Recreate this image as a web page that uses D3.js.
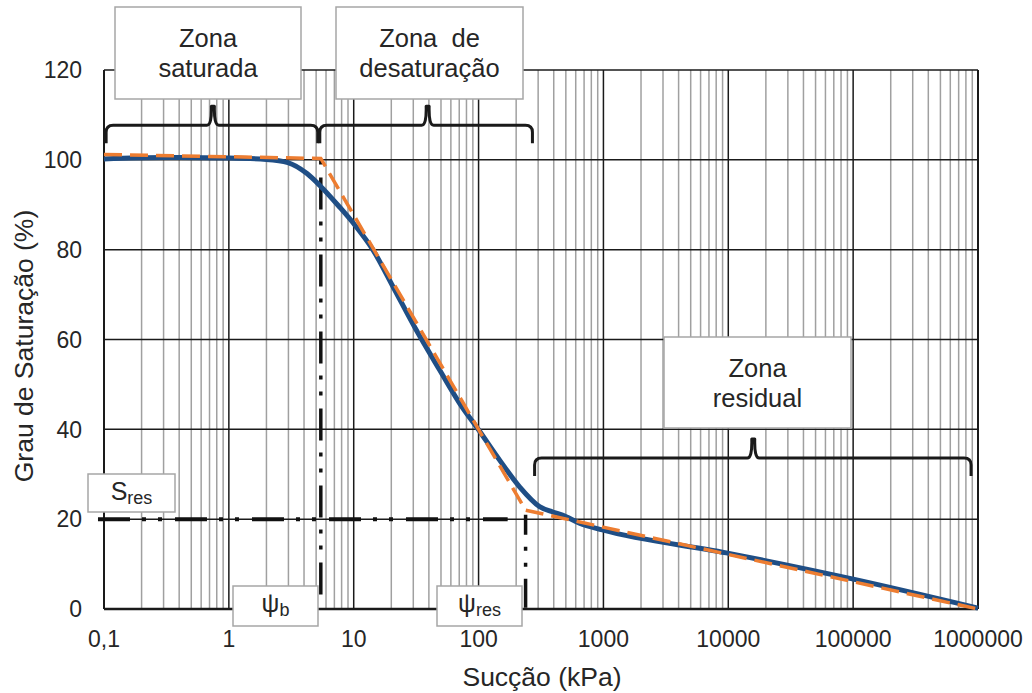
<!DOCTYPE html>
<html>
<head>
<meta charset="utf-8">
<script src="https://cdn.jsdelivr.net/npm/d3@7"></script>
<style>
  body { margin: 0; background: #fff; }
  svg text { font-family: "Liberation Sans", Arial, sans-serif; fill: #262626; }
</style>
</head>
<body>
<svg id="chart" width="1032" height="693"></svg>
<script>
// curva medida (azul)
const suctionMeasured = [0.1, 0.3, 1, 2, 2.97, 4.2, 5.35, 7.7, 10.2, 14.3, 20.6, 31.7, 48.8, 70.5, 100, 147, 213, 308, 392, 470, 643, 982, 9640, 98200, 1000000];
const saturationMeasured = [100.2, 100.5, 100.4, 100.1, 99.4, 97, 94.3, 89.5, 85.5, 79.9, 71.8, 62.1, 53.2, 45.8, 39.9, 33.2, 27.2, 22.8, 21.6, 20.9, 19.1, 17.6, 12.5, 6.7, 0.2];

// curva idealizada (laranja)
const suctionModel = [0.1, 5.45, 238, 1000000];
const saturationModel = [101.2, 100.3, 22, 0];

// pontos característicos
const psiB = 5.45;
const psiRes = 238;
const sRes = 20;

// eixos
const xTicks = [0.1, 1, 10, 100, 1000, 10000, 100000, 1000000];
const xTickLabels = ["0,1", "1", "10", "100", "1000", "10000", "100000", "1000000"];
const yTicks = [0, 20, 40, 60, 80, 100, 120];

// chaves das zonas [início, fim, pico, nível]
const braceSaturada = [0.104, 5.15, 0.745, 107.7];
const braceDesat = [5.35, 270, 39.1, 107.7];
const braceResidual = [281, 880000, 15850, 33.6];

const svg = d3.select("#chart");

const x = d3.scaleLog().domain([0.1, 1000000]).range([104, 978]);
const y = d3.scaleLinear().domain([0, 120]).range([609, 70]);

// linhas de grade secundárias
const minor = [];
for (let e = -1; e < 6; e++) {
   for (let m = 2; m <= 9; m++) minor.push(m * Math.pow(10, e));
}
svg.append("g")
   .selectAll("line")
   .data(minor)
   .enter()
   .append("line")
   .attr("x1", d => x(d)).attr("x2", d => x(d))
   .attr("y1", y(0)).attr("y2", y(120))
   .attr("stroke", "#a0a0a0")
   .attr("stroke-width", 1.5);

// linhas de grade principais
svg.append("g")
   .selectAll("line")
   .data(xTicks)
   .enter()
   .append("line")
   .attr("x1", d => x(d)).attr("x2", d => x(d))
   .attr("y1", y(0)).attr("y2", y(120))
   .attr("stroke", "#1a1a1a")
   .attr("stroke-width", d => (d === 0.1 || d === 1000000) ? 2 : 1.5);

svg.append("g")
   .selectAll("line")
   .data(yTicks)
   .enter()
   .append("line")
   .attr("x1", x(0.1)).attr("x2", x(1000000))
   .attr("y1", d => y(d)).attr("y2", d => y(d))
   .attr("stroke", "#1a1a1a")
   .attr("stroke-width", d => d === 0 ? 2.5 : 1.5);

// rótulos dos eixos
svg.append("g")
   .selectAll("text")
   .data(xTicks)
   .enter()
   .append("text")
   .attr("x", d => x(d))
   .attr("y", 647)
   .attr("text-anchor", "middle")
   .attr("font-size", 23)
   .text((d, i) => xTickLabels[i]);

svg.append("g")
   .selectAll("text")
   .data(yTicks)
   .enter()
   .append("text")
   .attr("x", 82)
   .attr("y", d => y(d))
   .attr("dy", "0.36em")
   .attr("text-anchor", "end")
   .attr("font-size", 23)
   .text(d => d);

svg.append("text")
   .attr("x", 542)
   .attr("y", 686)
   .attr("text-anchor", "middle")
   .attr("font-size", 26.5)
   .text("Sucção (kPa)");

svg.append("text")
   .attr("transform", "translate(33,346) rotate(-90)")
   .attr("text-anchor", "middle")
   .attr("font-size", 26.5)
   .text("Grau de Saturação (%)");

// linhas traço-ponto de referência
const dashDot = "32,12,4,12,4,13";
svg.append("line")
   .attr("x1", x(0.0895)).attr("x2", x(171))
   .attr("y1", y(sRes)).attr("y2", y(sRes))
   .attr("stroke", "#111").attr("stroke-width", 4)
   .attr("stroke-dasharray", dashDot);

svg.append("line")
   .attr("x1", x(psiB)).attr("x2", x(psiB))
   .attr("y1", y(100.5)).attr("y2", y(1.5))
   .attr("stroke", "#111").attr("stroke-width", 3.5)
   .attr("stroke-dasharray", dashDot)
   .attr("stroke-dashoffset", -20);

svg.append("line")
   .attr("x1", x(psiRes)).attr("x2", x(psiRes))
   .attr("y1", y(21)).attr("y2", y(0.3))
   .attr("stroke", "#111").attr("stroke-width", 3.5)
   .attr("stroke-dasharray", "20,12,4,12,4,12,30");

// curvas
const measured = suctionMeasured.map((s, i) => [s, saturationMeasured[i]]);
const model = suctionModel.map((s, i) => [s, saturationModel[i]]);

svg.append("path")
   .datum(measured)
   .attr("fill", "none")
   .attr("stroke", "#1f4e85")
   .attr("stroke-width", 5)
   .attr("stroke-linejoin", "round")
   .attr("d", d3.line().x(d => x(d[0])).y(d => y(d[1])).curve(d3.curveMonotoneX));

svg.append("path")
   .datum(model)
   .attr("fill", "none")
   .attr("stroke", "#ed7d31")
   .attr("stroke-width", 3.5)
   .attr("stroke-dasharray", "18,8")
   .attr("d", d3.line().x(d => x(d[0])).y(d => y(d[1])));

// chaves
function bracePath(b, drop, rise) {
   const x1 = x(b[0]), x2 = x(b[1]), xm = x(b[2]), yy = y(b[3]);
   const r = 7;
   return `M${x1},${yy + drop} L${x1},${yy + r} Q${x1},${yy} ${x1 + r},${yy}` +
      ` L${xm - 6},${yy} Q${xm - 1},${yy} ${xm - 1.5},${yy - rise} L${xm + 1.5},${yy - rise} Q${xm + 1},${yy} ${xm + 6},${yy}` +
      ` L${x2 - r},${yy} Q${x2},${yy} ${x2},${yy + r} L${x2},${yy + drop}`;
}

[braceSaturada, braceDesat, braceResidual].forEach(b => {
   svg.append("path")
      .attr("d", bracePath(b, 18, 19))
      .attr("fill", "none")
      .attr("stroke", "#1a1a1a")
      .attr("stroke-width", 3)
      .attr("stroke-linejoin", "round");
});

// caixas de texto
function box(x0, y0, w, h) {
   svg.append("rect")
      .attr("x", x0).attr("y", y0)
      .attr("width", w).attr("height", h)
      .attr("fill", "#fff")
      .attr("stroke", "#a6a6a6")
      .attr("stroke-width", 1.5);
}

function zoneLabel(x0, y0, w, h, lines) {
   box(x0, y0, w, h);
   lines.forEach((t, i) => {
      svg.append("text")
         .attr("x", x0 + w / 2)
         .attr("y", y0 + 40 + i * 30)
         .attr("text-anchor", "middle")
         .attr("font-size", 25.5)
         .attr("xml:space", "preserve")
         .text(t);
   });
}

zoneLabel(115, 7, 186, 92, ["Zona", "saturada"]);
zoneLabel(336, 7, 187, 92, ["Zona  de", "desaturação"]);
zoneLabel(664, 337, 187, 91, ["Zona", "residual"]);

function subLabel(x0, y0, w, h, main, sub) {
   box(x0, y0, w, h);
   const t = svg.append("text")
      .attr("x", x0 + w / 2)
      .attr("y", y0 + 26)
      .attr("text-anchor", "middle")
      .attr("font-size", 25);
   t.append("tspan").text(main);
   t.append("tspan").attr("font-size", 18).attr("dy", 4).text(sub);
}

subLabel(88, 474, 87, 38, "S", "res");
subLabel(233, 586, 85, 40, "ψ", "b");
subLabel(437, 586, 85, 40, "ψ", "res");
</script>
</body>
</html>
